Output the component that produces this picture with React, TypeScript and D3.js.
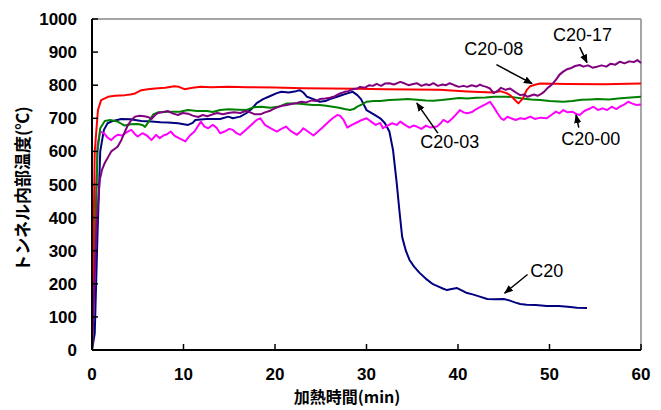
import React from "react";
import * as d3 from "d3";

// series: [time (min), temperature (°C)]
const c20: [number, number][] = [
  [0, 0], [0.3, 50], [0.6, 350], [0.9, 600], [1.3, 665], [1.7, 685], [2.3, 692], [3.2, 698], [4.2, 697],
  [5.4, 692], [6.5, 690], [7.5, 688], [8.3, 687], [9.4, 685], [10.5, 680], [11, 686], [11.3, 695],
  [12.5, 698], [14, 698], [14.9, 705], [15.4, 700], [16.2, 705], [16.9, 716], [17.5, 730], [18, 746],
  [18.7, 758], [19.3, 765], [20.2, 776], [20.7, 780], [21.5, 778], [22.3, 782], [22.7, 785], [23.1, 778],
  [23.5, 765], [24.2, 758], [24.9, 750], [25.5, 752], [26, 758], [26.8, 765], [27.5, 772], [28, 776],
  [28.5, 780], [29, 770], [29.4, 758], [30, 725], [30.8, 712], [31.5, 700], [32, 686], [32.5, 660],
  [32.9, 604], [33.3, 505], [33.6, 420], [33.9, 341], [34.3, 300], [34.7, 272], [35.2, 252], [35.8, 233],
  [36.5, 215], [37.2, 200], [38, 190], [38.4, 185], [38.8, 181], [39.3, 184], [39.9, 187], [40.4, 180],
  [41, 172], [41.6, 168], [42.3, 162], [43.2, 154], [44, 153], [45, 154], [45.6, 150], [46.2, 144],
  [46.8, 139], [47.5, 137], [48.5, 136], [49.7, 133], [51, 133], [52, 131], [53, 128], [54.1, 127],
];

const c20_00: [number, number][] = [
  [0, 0], [0.3, 300], [0.6, 620], [0.9, 660], [1.3, 655], [1.7, 642], [2.1, 634], [2.5, 645], [2.8, 650],
  [3.3, 648], [3.8, 658], [4.3, 665], [4.7, 652], [5, 645], [5.5, 655], [6, 648], [6.5, 634], [7, 650],
  [7.4, 640], [7.8, 648], [8.2, 652], [8.6, 660], [9, 648], [9.5, 640], [10.2, 630], [10.7, 648],
  [11.2, 660], [11.9, 690], [12.3, 675], [12.7, 670], [13.2, 680], [13.6, 672], [14, 655], [14.5, 660],
  [15, 668], [15.4, 665], [15.8, 655], [16.2, 650], [16.8, 665], [17.4, 680], [18, 695], [18.4, 700],
  [18.9, 680], [19.5, 670], [20.2, 660], [20.7, 668], [21.2, 675], [21.7, 662], [22.4, 650], [22.8, 660],
  [23.1, 670], [23.6, 660], [24.2, 648], [24.7, 660], [25.2, 672], [25.8, 688], [26.3, 700], [26.8, 710],
  [27.1, 708], [27.5, 695], [27.9, 672], [28.4, 680], [29, 688], [29.5, 695], [30, 700], [30.5, 690],
  [31, 680], [31.5, 686], [31.8, 670], [32.3, 678], [32.8, 685], [33.3, 680], [33.7, 690], [34.2, 680],
  [34.7, 672], [35.1, 678], [35.5, 675], [36, 668], [36.5, 678], [37, 672], [37.7, 675], [38.1, 685],
  [38.4, 695], [38.9, 688], [39.4, 700], [39.8, 712], [40.2, 725], [40.6, 718], [41, 715], [41.6, 720],
  [42, 728], [42.5, 735], [43, 742], [43.5, 750], [44, 730], [44.3, 716], [44.7, 700], [45, 695],
  [45.4, 705], [45.8, 700], [46.3, 695], [46.8, 700], [47.3, 698], [47.9, 705], [48.4, 698], [49, 702],
  [49.7, 700], [50.2, 710], [50.7, 720], [51.1, 715], [51.5, 725], [52, 718], [52.5, 720], [53, 712],
  [53.3, 710], [53.8, 722], [54.3, 728], [54.8, 735], [55.3, 725], [55.8, 730], [56.3, 725], [56.8, 735],
  [57.3, 728], [57.7, 735], [58.2, 742], [58.6, 750], [59, 745], [59.5, 740], [60, 742],
];

const c20_03: [number, number][] = [
  [0, 0], [0.3, 300], [0.6, 600], [0.9, 670], [1.4, 692], [2, 695], [2.8, 690], [3.3, 682], [3.6, 678],
  [4.2, 682], [5, 683], [5.5, 680], [5.8, 674], [6.2, 690], [6.7, 712], [7.2, 718], [8.3, 720], [9.6, 720],
  [10.5, 725], [11.5, 722], [12.6, 722], [13.2, 719], [14, 725], [14.9, 727], [16, 726], [16.9, 725],
  [17.6, 733], [18.5, 735], [19.5, 732], [20.5, 736], [21.3, 745], [22.2, 745], [22.7, 744], [23.5, 742],
  [24.2, 740], [24.9, 740], [25.6, 738], [26.3, 735], [27, 732], [27.6, 728], [28.2, 725], [28.6, 728],
  [29, 735], [29.5, 742], [30, 750], [30.8, 752], [31.5, 752], [32.5, 755], [33.7, 757], [34.5, 758],
  [35.5, 756], [36.5, 754], [37.3, 753], [38.2, 755], [39.2, 758], [40.1, 761], [41, 760], [42, 762],
  [43, 763], [44, 765], [45.3, 765], [46, 764], [47, 760], [48, 757], [49, 755], [50, 752], [51, 751],
  [51.5, 750], [52.5, 752], [53.5, 756], [54.5, 757], [55.2, 758], [56.5, 757], [57.5, 760], [58.5, 762],
  [60, 765],
];

const c20_08: [number, number][] = [
  [0, 0], [0.3, 600], [0.65, 725], [1, 755], [1.75, 765], [2.5, 768], [3.6, 770], [4.2, 772], [4.7, 775],
  [5.4, 785], [6.1, 788], [6.9, 790], [8, 792], [9, 797], [9.5, 795], [10.1, 788], [11, 792], [11.9, 795],
  [13, 794], [14.9, 795], [17, 794], [20, 793], [23, 791], [26, 790], [29, 789], [32, 788], [35, 787],
  [38, 786], [41, 781], [43.8, 778], [44.6, 782], [45.3, 776], [45.7, 770], [46.2, 756], [46.6, 745],
  [47.1, 760], [47.5, 785], [47.9, 797], [48.5, 802], [49, 805], [52, 804], [56, 803], [60, 805],
];

const c20_17: [number, number][] = [
  [0, 0], [0.2, 150], [0.5, 380], [0.85, 514], [1.1, 545], [1.4, 565], [1.8, 585], [2.1, 600], [2.5, 608],
  [2.8, 614], [3.2, 634], [3.6, 660], [3.9, 678], [4.3, 695], [4.7, 705], [5.2, 708], [5.7, 706], [6.1, 704],
  [6.5, 698], [6.9, 710], [7.2, 716], [7.7, 718], [8.3, 722], [8.8, 715], [9.4, 710], [9.9, 716], [10.5, 714],
  [11, 708], [11.6, 704], [12.1, 710], [12.6, 706], [13.2, 712], [13.7, 716], [14.3, 712], [14.9, 716],
  [15.5, 718], [16.2, 716], [16.8, 722], [17.3, 718], [17.8, 712], [18.4, 712], [18.9, 718], [19.4, 722],
  [19.8, 728], [20.3, 734], [20.8, 738], [21.3, 740], [21.9, 744], [22.4, 746], [22.9, 750], [23.4, 748],
  [24, 754], [24.5, 752], [24.9, 758], [25.5, 760], [26, 762], [26.5, 766], [27.1, 775], [27.6, 780],
  [28, 782], [28.5, 788], [29, 790], [29.3, 795], [29.8, 792], [30.3, 800], [30.7, 798], [31.1, 804],
  [31.6, 798], [32, 805], [32.5, 806], [33, 802], [33.7, 810], [34.2, 805], [34.6, 800], [35, 803],
  [35.5, 806], [36, 798], [36.5, 803], [36.9, 800], [37.3, 806], [37.8, 798], [38.3, 802], [38.7, 800],
  [39.1, 806], [39.6, 800], [40.1, 795], [40.6, 798], [41, 795], [41.5, 800], [42, 796], [42.4, 802],
  [42.7, 798], [43.1, 795], [43.5, 790], [43.9, 776], [44.3, 782], [44.7, 792], [45.2, 786], [45.7, 790],
  [46.1, 782], [46.5, 775], [46.8, 770], [47.2, 772], [47.6, 765], [47.9, 768], [48.3, 772], [48.7, 768],
  [49, 772], [49.4, 780], [49.8, 792], [50.1, 798], [50.4, 806], [50.8, 820], [51.1, 832], [51.5, 841],
  [51.9, 848], [52.4, 852], [52.8, 858], [53.3, 861], [53.7, 856], [54.2, 860], [54.7, 853], [55.2, 856],
  [55.7, 860], [56.2, 856], [56.7, 865], [57.2, 862], [57.7, 871], [58.2, 866], [58.7, 872], [59.2, 870],
  [59.6, 876], [60, 867],
];

const xTicks = [0, 10, 20, 30, 40, 50, 60];
const yTicks = [0, 100, 200, 300, 400, 500, 600, 700, 800, 900, 1000];

const series = [
  { name: "C20", data: c20, color: "#000080" },
  { name: "C20-00", data: c20_00, color: "#ff00ff" },
  { name: "C20-03", data: c20_03, color: "#008000" },
  { name: "C20-08", data: c20_08, color: "#ff0000" },
  { name: "C20-17", data: c20_17, color: "#800080" },
];

// label text position and arrow [from, to] in data units
const notes = [
  { text: "C20-17", tx: 53.6, ty: 935, from: [53.3, 915], to: [54.1, 868] },
  { text: "C20-08", tx: 43.9, ty: 890, from: [44.2, 862], to: [48.1, 805] },
  { text: "C20-03", tx: 39.1, ty: 610, from: [37.8, 655], to: [35.5, 746] },
  { text: "C20-00", tx: 54.5, ty: 618, from: [53.2, 672], to: [52.9, 710] },
  { text: "C20", tx: 49.7, ty: 222, from: [47.6, 228], to: [45.1, 172] },
];

export default function App() {
  const x = d3.scaleLinear().domain([0, 60]).range([92, 641]);
  const y = d3.scaleLinear().domain([0, 1000]).range([350, 19]);
  const line = d3
    .line<[number, number]>()
    .x((d) => x(d[0]))
    .y((d) => y(d[1]));
  const num = "'Liberation Sans', Arial, sans-serif";
  const jp = "'Noto Sans CJK JP', sans-serif";

  return (
    <svg width={661} height={410} style={{ position: "absolute", left: 0, top: 0, background: "#fff" }}>
      <defs>
        <marker id="arr" viewBox="0 0 10 10" refX="9" refY="5" markerWidth="9" markerHeight="9"
          markerUnits="userSpaceOnUse" orient="auto">
          <path d="M0,1 L10,5 L0,9 z" fill="#000" />
        </marker>
      </defs>
      {/* frame */}
      <line x1={x(0)} x2={x(60)} y1={y(1000)} y2={y(1000)} stroke="#888" strokeWidth={1.5} />
      <line x1={x(60)} x2={x(60)} y1={y(1000)} y2={y(0)} stroke="#888" strokeWidth={1.5} />

      {series.map((s) => (
        <path key={s.name} d={line(s.data) || ""} fill="none" stroke={s.color} strokeWidth={2}
          strokeLinejoin="round" />
      ))}

      <line x1={x(0)} x2={x(0)} y1={y(1000)} y2={y(0)} stroke="#000" strokeWidth={2} />
      <line x1={x(0)} x2={x(60)} y1={y(0)} y2={y(0)} stroke="#000" strokeWidth={2} />
      {yTicks.map((t) => (
        <g key={"y" + t}>
          <line x1={x(0)} x2={x(0) + 6} y1={y(t)} y2={y(t)} stroke="#000" strokeWidth={1.5} />
          <text x={77} y={y(t) + 6} textAnchor="end" fontFamily={num} fontWeight="bold" fontSize={17}>
            {t}
          </text>
        </g>
      ))}
      {xTicks.map((t) => (
        <g key={"x" + t}>
          <line x1={x(t)} x2={x(t)} y1={y(0)} y2={y(0) - 6} stroke="#000" strokeWidth={1.5} />
          <text x={x(t)} y={380} textAnchor="middle" fontFamily={num} fontWeight="bold" fontSize={17}>
            {t}
          </text>
        </g>
      ))}

      {notes.map((n) => (
        <g key={n.text}>
          <line x1={x(n.from[0])} y1={y(n.from[1])} x2={x(n.to[0])} y2={y(n.to[1])} stroke="#000"
            strokeWidth={1.5} markerEnd="url(#arr)" />
          <text x={x(n.tx)} y={y(n.ty)} textAnchor="middle" fontFamily={num} fontSize={18}>
            {n.text}
          </text>
        </g>
      ))}

      <text x={347} y={403} textAnchor="middle" fontFamily={jp} fontWeight="bold" fontSize={16}>
        加熱時間(min)
      </text>
      <text transform="translate(29,189) rotate(-90)" textAnchor="middle" fontFamily={jp} fontWeight="bold"
        fontSize={17}>
        トンネル内部温度(℃)
      </text>
    </svg>
  );
}
